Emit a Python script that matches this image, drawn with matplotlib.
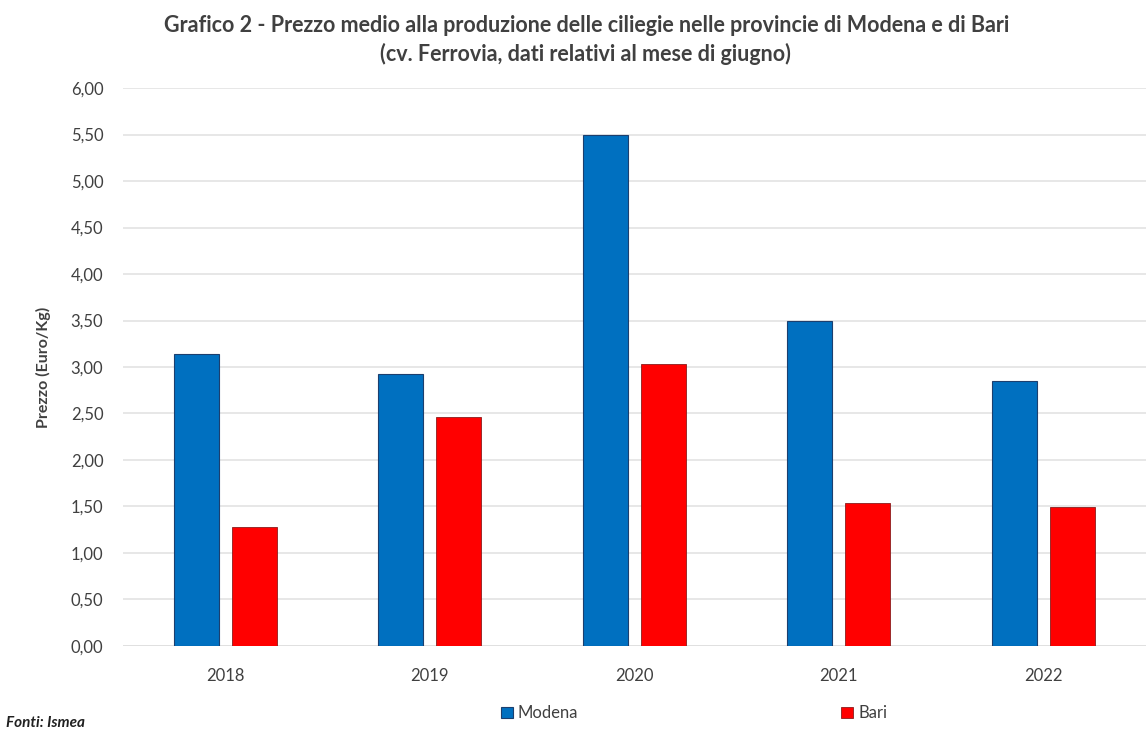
import matplotlib.pyplot as plt
import numpy as np

plt.rcParams['font.family'] = ['Lato', 'DejaVu Sans']

years = ['2018', '2019', '2020', '2021', '2022']
modena = [3.14, 2.92, 5.50, 3.50, 2.85]
bari = [1.28, 2.46, 3.03, 1.54, 1.49]
yticks = [0, 0.5, 1, 1.5, 2, 2.5, 3, 3.5, 4, 4.5, 5, 5.5, 6]

fig = plt.figure(figsize=(11.48, 7.34), dpi=100)
ax = fig.add_axes([0.107, 0.12, 0.891, 0.76])

x = np.arange(len(years))
w = 0.22
off = 0.142
ax.bar(x - off, modena, width=w, color='#0070C0', edgecolor='#1c3f6e', linewidth=0.8,
       label='Modena', zorder=3)
ax.bar(x + off, bari, width=w, color='#FF0000', edgecolor='#8a1c1c', linewidth=0.6,
       label='Bari', zorder=3)

ax.set_xlim(-0.5, len(years) - 0.5)
ax.set_ylim(0, 6)
ax.set_yticks(yticks)
ax.set_yticklabels([f'{v:.2f}'.replace('.', ',') for v in yticks],
                   fontsize=12, color='#404040')
ax.set_xticks(x)
ax.set_xticklabels(years, fontsize=12, color='#404040')
ax.tick_params(length=0)
ax.tick_params(axis='x', pad=16)
ax.tick_params(axis='y', pad=14)
ax.grid(axis='y', color='#e3e3e3', linewidth=1.2, zorder=0)
for s in ax.spines.values():
    s.set_visible(False)
ax.axhline(0, color='#d0d0d0', linewidth=1.2, zorder=1)

ax.set_ylabel('Prezzo (Euro/Kg)', fontsize=11.5, fontweight='bold', color='#404040',
              labelpad=14)

fig.text(0.511, 0.965, 'Grafico 2 - Prezzo medio alla produzione delle ciliegie nelle provincie di Modena e di Bari',
         ha='center', va='center', fontsize=15.5, fontweight='bold', color='#404040')
fig.text(0.51, 0.926, '(cv. Ferrovia, dati relativi al mese di giugno)',
         ha='center', va='center', fontsize=15.5, fontweight='bold', color='#404040')

leg = fig.legend(loc='center', bbox_to_anchor=(0.6045, 0.028), ncol=2, frameon=False,
                 fontsize=12, handlelength=0.7, handleheight=0.7, handletextpad=0.3,
                 columnspacing=15.8)
for t in leg.get_texts():
    t.set_color('#404040')

fig.text(0.005, 0.015, 'Fonti: Ismea', fontsize=11, fontweight='bold', style='italic',
         color='#202020', ha='left', va='center')

fig.savefig('out.png', dpi=100, facecolor='white')
